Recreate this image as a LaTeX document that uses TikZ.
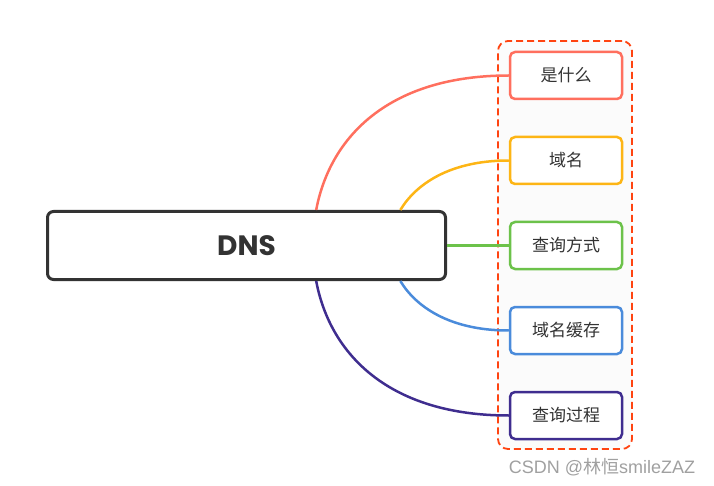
\documentclass[tikz,border=0pt]{standalone}
\usepackage{fontspec}
\setsansfont{Poppins}
\newfontfamily\cjk{Noto Sans CJK SC}
\newfontfamily\marklatin{Liberation Sans}
\usetikzlibrary{positioning}

\definecolor{rootgray}{HTML}{333333}
\definecolor{textgray}{HTML}{333333}
\definecolor{markgray}{HTML}{A0A0A0}
\definecolor{frameorange}{HTML}{FF4411}
\definecolor{redline}{HTML}{FF6F5E}
\definecolor{yellowline}{HTML}{FDB515}
\definecolor{greenline}{HTML}{6CC24A}
\definecolor{blueline}{HTML}{4A8BDB}
\definecolor{purpleline}{HTML}{3F2D8F}

\begin{document}
\begin{tikzpicture}[x=1pt,y=-1pt]
        \tikzstyle{topic}=[draw, line width=2.5pt, rounded corners=5pt, fill=white, minimum width=112pt, minimum height=47pt, text=textgray, font=\cjk\fontsize{17}{20}\selectfont]
        \tikzstyle{branch}=[line width=2.5pt]
        \useasboundingbox (0,0) rectangle (714,486);

        % dashed frame round the topics
        \node   (frame)  [draw=frameorange, dashed, dash pattern=on 7pt off 4pt, line width=1.8pt, rounded corners=10pt, fill=black!1.5, minimum width=134pt, minimum height=408pt] at (565,245) {};

        \node   (dns)    [draw=rootgray, line width=3pt, rounded corners=6pt, fill=white, minimum width=398pt, minimum height=68pt, text=rootgray, font=\sffamily\bfseries\fontsize{28}{31}\selectfont] at (246.5,245.5) {DNS};

        \node   (what)   [topic, draw=redline] at (566,75.5) {是什么};
        \node   (name)   [topic, draw=yellowline, below=35.5pt of what] {域名};
        \node   (query)  [topic, draw=greenline, below=35.5pt of name] {查询方式};
        \node   (cache)  [topic, draw=blueline, below=35.5pt of query] {域名缓存};
        \node   (steps)  [topic, draw=purpleline, below=35.5pt of cache] {查询过程};

        \draw[branch, redline]    (dns.27)  .. controls +(14,-74) and +(-119,0) .. (what.west);
        \draw[branch, yellowline] (dns.13)  .. controls +(15,-25) and +(-60,0) .. (name.west);
        \draw[branch, greenline]  (dns.east) -- (query.west);
        \draw[branch, blueline]   (dns.-13) .. controls +(15,25) and +(-60,0) .. (cache.west);
        \draw[branch, purpleline] (dns.-27) .. controls +(14,74) and +(-119,0) .. (steps.west);

        \node   (mark)   [text=markgray, font=\marklatin\fontsize{18}{21}\selectfont] at (602,467) {CSDN @{\cjk 林恒}smileZAZ};
    \end{tikzpicture}
\end{document}
